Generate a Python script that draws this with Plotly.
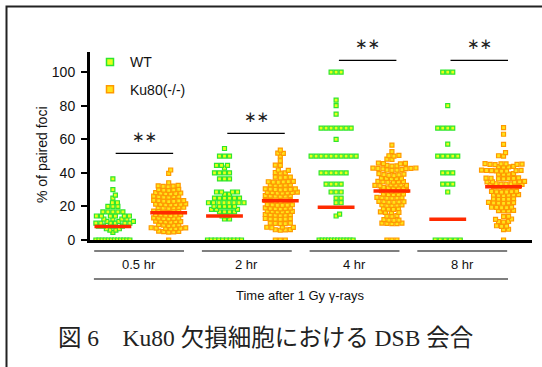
import plotly.graph_objects as go

# ---------------- data ----------------
time_labels = ["0.5 hr", "2 hr", "4 hr", "8 hr"]
series_names = ["WT", "Ku80(-/-)"]

wt_05 = [36.4, 30.0, 26.7, 25.0, 22.2, 22.2, 20.0, 20.0, 20.0,
         16.7, 16.7, 16.7, 16.7, 16.7, 14.3, 14.3, 14.3, 14.3, 14.3, 14.3,
         12.5, 12.5, 12.5, 12.5, 11.1, 11.1, 11.1, 10.0, 10.0, 10.0, 10.0, 10.0, 10.0,
         8.3, 8.3, 8.3, 8.3, 6.7, 6.7, 5.9, 5.9, 4.5,
         0, 0, 0, 0, 0, 0, 0, 0, 0, 0, 0, 0]
ku_05 = [41.7, 39.7, 34.1,
         32.5, 32.0, 31.8, 32.3, 32.1,
         30.2, 29.9, 29.6, 30.0, 29.7,
         28.2, 27.9, 27.6, 28.0, 27.7, 27.5,
         26.1, 25.9, 25.6, 25.8, 26.0, 25.5,
         23.6, 23.3, 23.0, 23.4, 22.9, 23.2, 23.5,
         21.5, 21.2, 20.9, 21.3, 21.0, 21.4, 21.1,
         19.5, 19.2, 18.9, 19.3, 19.0, 19.4,
         17.2, 16.9, 16.6, 17.0, 16.8, 17.1,
         15.2, 14.9, 14.6, 15.0, 14.8, 15.1,
         13.2, 12.9, 12.6, 13.0, 12.8, 13.1,
         11.2, 10.9, 10.6, 11.0, 10.8, 11.1,
         9.2, 8.9, 8.6, 9.0, 8.8,
         7.3, 7.0, 6.7, 7.1, 6.9, 7.2, 6.8,
         5.3, 5.0, 4.7, 5.1, 4.9,
         0]
wt_2 = [54.5, 50.0, 50.0, 50.0, 44.4, 44.4, 44.4, 42.9, 40.0, 40.0, 40.0, 40.0,
        36.4, 36.4, 36.4, 28.6, 28.6, 28.6, 28.6, 27.3, 27.3,
        25.0, 25.0, 25.0, 25.0, 25.0, 25.0,
        22.2, 22.2, 22.2, 22.2, 22.2, 22.2, 22.2, 22.2,
        20.0, 20.0, 20.0, 20.0, 20.0, 18.2, 18.2, 18.2, 16.7, 16.7, 16.7, 16.7,
        14.3, 14.3, 12.5, 12.5,
        0, 0, 0, 0, 0, 0, 0, 0, 0, 0]
ku_2 = [53.6, 51.6, 51.8, 50.0, 47.2, 44.6, 44.4, 41.7, 41.5, 40.2, 40.0, 39.8,
        37.5, 37.3, 37.1, 37.4, 34.9, 34.7, 34.5, 34.8, 34.6, 34.4,
        32.9, 32.7, 32.5, 32.8, 32.6, 30.4, 30.2, 30.0, 30.3, 30.1, 30.5, 29.9,
        28.4, 28.2, 28.0, 28.3, 28.1, 28.5, 27.9, 26.4, 26.2, 26.0, 26.3, 26.1, 26.5,
        23.6, 23.4, 23.2, 23.5, 23.3, 23.1, 21.0, 20.8, 20.6, 20.9, 20.7, 21.1,
        19.0, 18.8, 18.6, 18.9, 18.7, 19.1, 17.1, 16.9, 16.7, 17.0, 16.8, 17.2,
        15.1, 14.9, 14.7, 15.0, 14.8, 15.2, 12.7, 12.5, 12.3, 12.6, 12.4, 12.8,
        10.1, 9.9, 9.7, 10.0, 9.8, 7.7, 7.5, 7.3, 7.6, 6.2, 6.0, 5.8, 6.1,
        0, 0, 0]
wt_4 = [100, 100, 100, 83.3, 80.0, 75.0,
        66.7, 66.7, 66.7, 66.7, 66.7, 66.7, 66.7, 60.0,
        50, 50, 50, 50, 50, 50, 50, 50, 50, 50,
        40, 40, 40, 40, 40, 40, 33.3, 33.3, 33.3, 33.3,
        28.6, 28.6, 28.6, 25.0, 25.0, 22.2, 22.2, 15.4, 14.3,
        0, 0, 0, 0, 0, 0, 0, 0, 0, 0, 0, 0]
ku_4 = [56.5, 52.6, 50.2, 50.0, 50.4, 48.2, 48.0, 45.6, 45.4, 45.8, 45.5, 44.2, 44.0, 44.4,
        42.7, 42.5, 42.9, 42.6, 42.8, 42.4, 41.7, 41.5, 41.9, 41.6,
        39.5, 39.0, 38.5, 39.2, 38.8, 38.3, 36.7, 36.5, 36.9, 36.6, 36.8,
        34.7, 34.5, 34.9, 34.6, 34.8, 34.4, 32.7, 32.5, 32.9, 32.6, 32.8, 32.4,
        31.1, 30.9, 31.3, 31.0, 31.2, 29.2, 29.0, 29.4, 29.1, 29.3, 29.5,
        27.2, 27.0, 27.4, 27.1, 27.3, 25.2, 25.0, 25.4, 25.1, 25.3, 24.9,
        22.8, 22.6, 23.0, 22.7, 22.9, 22.5, 20.8, 20.6, 21.0, 20.7, 20.9,
        18.5, 18.3, 18.7, 18.4, 16.5, 16.3, 16.7, 16.4, 14.3, 14.1, 14.5,
        11.9, 11.7, 12.1, 11.8, 9.9, 9.7, 10.1, 9.8, 10.0,
        0, 0, 0]
wt_8 = [100, 100, 100, 80.0, 66.7, 66.7, 66.7, 66.7, 57.1,
        50, 50, 50, 50, 50, 40, 40, 40, 33.3, 33.3, 33.3, 28.6,
        0, 0, 0, 0, 0, 0]
ku_8 = [66.9, 63.0, 57.0, 52.0, 50.0, 50.2,
        45.2, 45.0, 45.4, 45.1, 45.3, 44.9, 45.5, 43.7, 43.5, 43.9, 43.6,
        41.3, 41.1, 41.5, 41.2, 41.4, 41.0, 41.6, 41.3, 39.3, 39.1, 39.5, 39.2,
        36.7, 36.5, 36.9, 36.6, 36.8, 36.4, 37.0, 34.7, 34.5, 34.9, 34.6, 34.8,
        33.3, 33.1, 33.5, 33.2, 33.4, 33.0, 31.7, 31.5, 31.9, 31.6, 31.8, 31.4,
        28.8, 28.6, 29.0, 28.7, 28.9, 28.5, 26.8, 26.6, 27.0, 26.7, 26.9, 26.5,
        24.4, 24.2, 24.6, 24.3, 24.5, 22.2, 22.0, 22.4, 22.1, 22.3, 21.9,
        19.4, 19.2, 19.6, 19.3, 19.5, 17.5, 17.3, 17.7, 17.4,
        13.9, 14.1, 12.5, 12.3, 10.9, 10.7, 11.1, 8.3, 8.1, 8.5, 6.4, 6.2,
        0]

wt_means = [8.0, 14.3, 19.5, 12.3]
ku_means = [16.3, 23.4, 29.2, 31.7]

y_ticks = [0, 20, 40, 60, 80, 100]

# ---------------- layout constants ----------------
W, H = 542, 367
ML, MR, MT = 90, 10, 52
PLOT_BOTTOM = 240
MB = H - PLOT_BOTTOM
XR = [-0.41, 7.51]
YR = [0, 112]
PW = W - ML - MR
PH = PLOT_BOTTOM - MT
PX_X = PW / (XR[1] - XR[0])
PX_Y = PH / (YR[1] - YR[0])

def px2paper_x(px):
    return (px - ML) / PW

def px2paper_y(py):
    return (PLOT_BOTTOM - py) / PH

def swarm(values, center, diam=3.7, zero_max=34):
    """simple beeswarm: returns x,y lists"""
    xs, ys, placed = [], [], []
    zeros = [v for v in values if v == 0]
    n0 = len(zeros)
    if n0:
        span = min((n0 - 1) * 5.0, zero_max) if n0 > 1 else 0
        for j in range(n0):
            off = -span / 2 + (span * j / (n0 - 1) if n0 > 1 else 0)
            xs.append(center + off / PX_X)
            ys.append(0)
            placed.append((off, 0))
    for i, v in enumerate(sorted(v for v in values if v != 0)):
        ypx = v * PX_Y
        best = None
        k = 0
        while best is None:
            signs = [1] if k == 0 else ([1, -1] if i % 2 else [-1, 1])
            for s in signs:
                off = s * k * 0.5
                ok = True
                for p, q in placed:
                    dy = abs(ypx - q)
                    if (off - p) ** 2 + dy ** 2 < diam ** 2:
                        ok = False
                        break
                    if dy < 1.0 and abs(off - p) < 5.0:
                        ok = False
                        break
                if ok:
                    best = off
                    break
            k += 1
        placed.append((best, ypx))
        xs.append(center + best / PX_X)
        ys.append(v)
    return xs, ys

wt_groups = [wt_05, wt_2, wt_4, wt_8]
ku_groups = [ku_05, ku_2, ku_4, ku_8]

fig = go.Figure()
styles = [
    dict(color="#e8ff1a", line=dict(color="#2ee62e", width=1.2)),
    dict(color="#ffe31a", line=dict(color="#ff9900", width=1.2)),
]
for si, groups in enumerate([wt_groups, ku_groups]):
    allx, ally = [], []
    for gi, vals in enumerate(groups):
        cx = 2 * gi + si
        x, y = swarm(vals, cx)
        allx += x
        ally += y
    fig.add_trace(go.Scatter(
        x=allx, y=ally, mode="markers", name=series_names[si],
        marker=dict(symbol="square", size=4, **styles[si]),
        cliponaxis=False, showlegend=False,
    ))
    # legend-only entry with a slightly larger swatch
    fig.add_trace(go.Scatter(
        x=[None], y=[None], mode="markers", name=series_names[si],
        legendgroup=series_names[si],
        marker=dict(symbol="square", size=7, color=styles[si]["color"],
                    line=dict(color=styles[si]["line"]["color"], width=1.5)),
        showlegend=True,
    ))

shapes = []
# mean lines
for gi in range(4):
    for si, m in enumerate([wt_means[gi], ku_means[gi]]):
        cx = 2 * gi + si
        shapes.append(dict(type="line", xref="x", yref="y", x0=cx - 0.33, x1=cx + 0.33,
                           y0=m, y1=m, line=dict(color="#ff2a00", width=3.5), layer="above"))

# significance brackets
sig_y = [51.6, 63.5, 107.0, 107.0]
annotations = []
for gi in range(4):
    x0 = 2 * gi + 0.05
    x1 = 2 * gi + 1 + 0.08
    shapes.append(dict(type="line", xref="x", yref="y", x0=x0, x1=x1, y0=sig_y[gi], y1=sig_y[gi],
                       line=dict(color="black", width=1.2)))
    annotations.append(dict(x=(x0 + x1) / 2, y=sig_y[gi] + 3.5, xref="x", yref="y",
                            text="∗∗", showarrow=False, yanchor="bottom",
                            font=dict(family="DejaVu Sans", size=15, color="#222")))

# group lines and labels below the axis
for gi in range(4):
    c = 0.47 + gi * 1.93
    shapes.append(dict(type="line", xref="x", yref="paper", x0=c - 0.805, x1=c + 0.805,
                       y0=px2paper_y(251), y1=px2paper_y(251), line=dict(color="black", width=1.2)))
    annotations.append(dict(x=c, y=px2paper_y(264), xref="x", yref="paper", text=time_labels[gi],
                            showarrow=False, xanchor="center", yanchor="middle",
                            font=dict(family="Liberation Sans, Arial", size=13, color="#111")))
shapes.append(dict(type="line", xref="x", yref="paper", x0=-0.34, x1=7.08,
                   y0=px2paper_y(279), y1=px2paper_y(279), line=dict(color="black", width=1.2)))
annotations.append(dict(x=(-0.34 + 7.08) / 2, y=px2paper_y(295), xref="x", yref="paper",
                        text="Time after 1 Gy γ-rays", showarrow=False,
                        xanchor="center", yanchor="middle",
                        font=dict(family="Liberation Sans, Arial", size=13, color="#111")))

# y-axis title
annotations.append(dict(x=px2paper_x(42), y=px2paper_y(155), xref="paper", yref="paper",
                        text="% of paired foci", textangle=-90, showarrow=False,
                        xanchor="center", yanchor="middle",
                        font=dict(family="Liberation Sans, Arial", size=14, color="#111")))

# caption
annotations.append(dict(x=px2paper_x(265), y=px2paper_y(338), xref="paper", yref="paper",
                        text="図 6\u3000Ku80 欠損細胞における DSB 会合", showarrow=False,
                        xanchor="center", yanchor="middle",
                        font=dict(family="Liberation Serif, Noto Sans CJK JP", size=23.5, color="#222")))

# outer frame (top and left edges visible in the reference)
shapes.append(dict(type="rect", xref="paper", yref="paper",
                   x0=px2paper_x(6.5), x1=px2paper_x(560),
                   y0=px2paper_y(380), y1=px2paper_y(6.5),
                   line=dict(color="#222", width=2), fillcolor="rgba(0,0,0,0)", layer="above"))

fig.update_layout(
    width=W, height=H,
    margin=dict(l=ML, r=MR, t=MT, b=MB, autoexpand=False),
    paper_bgcolor="white", plot_bgcolor="white",
    shapes=shapes, annotations=annotations,
    showlegend=True,
    legend=dict(x=0.0, y=1.03, xanchor="left", yanchor="top", bgcolor="rgba(0,0,0,0)",
                font=dict(family="Liberation Sans, Arial", size=14, color="#111"),
                tracegroupgap=6, traceorder="grouped"),
    xaxis=dict(range=XR, showline=True, linecolor="black", linewidth=3, showticklabels=False,
               ticks="", showgrid=False, zeroline=False),
    yaxis=dict(range=YR, showline=True, linecolor="black", linewidth=3, tickvals=y_ticks,
               ticks="outside", ticklen=6, tickwidth=2, tickcolor="black", showgrid=False,
               ticklabelstandoff=3,
               zeroline=False, tickfont=dict(family="Liberation Sans, Arial", size=14, color="#111")),
)

fig.write_html("out.html", config={"displayModeBar": False},
               post_script="document.body.style.margin='0';document.body.style.padding='0';")
